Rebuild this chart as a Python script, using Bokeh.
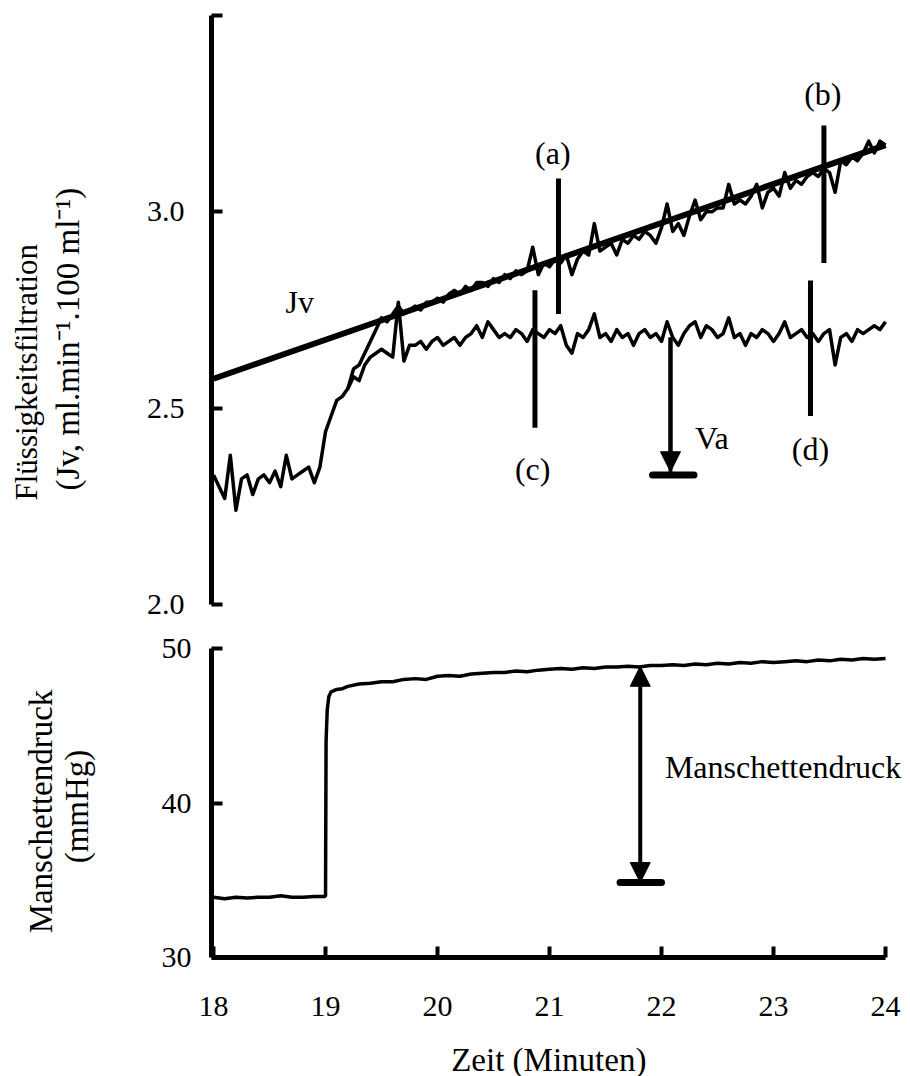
import math
from bokeh.plotting import figure
from bokeh.layouts import column, row
from bokeh.models import (ColumnDataSource, FixedTicker, Arrow, NormalHead, Range1d,
                          PrintfTickFormatter)
from bokeh.core.properties import value
from bokeh.embed import file_html
from bokeh.resources import INLINE

FONT = "Liberation Serif"
FS_TICK = "30px"
FS_TEXT = "32px"
FS_TITLE = "33px"

# ---------------- data ----------------
# lower trace (Jv record, ends in plateau c-d)
lower_t = [18.00, 18.05, 18.10, 18.15, 18.20, 18.25, 18.30, 18.35, 18.40, 18.45,
           18.50, 18.55, 18.60, 18.65, 18.70, 18.75, 18.80, 18.85, 18.90, 18.95,
           19.00, 19.05, 19.10, 19.15, 19.20, 19.25, 19.30, 19.35, 19.40, 19.45,
           19.50, 19.55, 19.60, 19.65, 19.70, 19.75, 19.80, 19.85, 19.90, 19.95,
           20.00, 20.05, 20.10, 20.15, 20.20, 20.25, 20.30, 20.35, 20.40, 20.45,
           20.50, 20.55, 20.60, 20.65, 20.70, 20.75, 20.80, 20.85, 20.90, 20.95,
           21.00, 21.05, 21.10, 21.15, 21.20, 21.25, 21.30, 21.35, 21.40, 21.45,
           21.50, 21.55, 21.60, 21.65, 21.70, 21.75, 21.80, 21.85, 21.90, 21.95,
           22.00, 22.05, 22.10, 22.15, 22.20, 22.25, 22.30, 22.35, 22.40, 22.45,
           22.50, 22.55, 22.60, 22.65, 22.70, 22.75, 22.80, 22.85, 22.90, 22.95,
           23.00, 23.05, 23.10, 23.15, 23.20, 23.25, 23.30, 23.35, 23.40, 23.45,
           23.50, 23.55, 23.60, 23.65, 23.70, 23.75, 23.80, 23.85, 23.90, 23.95,
           24.00]
lower_jv = [2.33, 2.30, 2.27, 2.38, 2.24, 2.32, 2.33, 2.28, 2.32, 2.33,
            2.31, 2.34, 2.30, 2.38, 2.32, 2.33, 2.34, 2.35, 2.31, 2.35,
            2.44, 2.48, 2.52, 2.53, 2.55, 2.58, 2.57, 2.61, 2.63, 2.64,
            2.65, 2.64, 2.63, 2.77, 2.62, 2.66, 2.66, 2.67, 2.65, 2.67,
            2.68, 2.66, 2.67, 2.68, 2.66, 2.68, 2.69, 2.71, 2.68, 2.72,
            2.70, 2.68, 2.69, 2.68, 2.70, 2.69, 2.67, 2.70, 2.69, 2.68,
            2.70, 2.69, 2.71, 2.66, 2.64, 2.69, 2.68, 2.70, 2.74, 2.68,
            2.69, 2.67, 2.70, 2.68, 2.69, 2.66, 2.69, 2.70, 2.68, 2.69,
            2.67, 2.72, 2.68, 2.66, 2.69, 2.71, 2.72, 2.68, 2.71, 2.70,
            2.68, 2.69, 2.73, 2.68, 2.69, 2.66, 2.69, 2.68, 2.70, 2.69,
            2.67, 2.69, 2.72, 2.68, 2.69, 2.70, 2.68, 2.69, 2.67, 2.69,
            2.70, 2.61, 2.68, 2.69, 2.67, 2.70, 2.69, 2.70, 2.71, 2.70,
            2.72]

# upper trace (Jv record rising along the fitted line, a-b)
upper_t = [19.20, 19.25, 19.30, 19.35, 19.40, 19.45, 19.50, 19.55, 19.60, 19.65, 19.70,
           19.75, 19.80, 19.85, 19.90, 19.95,
           20.00, 20.05, 20.10, 20.15, 20.20, 20.25, 20.30, 20.35, 20.40, 20.45,
           20.50, 20.55, 20.60, 20.65, 20.70, 20.75, 20.80, 20.85, 20.90, 20.95,
           21.00, 21.05, 21.10, 21.15, 21.20, 21.25, 21.30, 21.35, 21.40, 21.45,
           21.50, 21.55, 21.60, 21.65, 21.70, 21.75, 21.80, 21.85, 21.90, 21.95,
           22.00, 22.05, 22.10, 22.15, 22.20, 22.25, 22.30, 22.35, 22.40, 22.45,
           22.50, 22.55, 22.60, 22.65, 22.70, 22.75, 22.80, 22.85, 22.90, 22.95,
           23.00, 23.05, 23.10, 23.15, 23.20, 23.25, 23.30, 23.35, 23.40, 23.45,
           23.50, 23.55, 23.60, 23.65, 23.70, 23.75, 23.80, 23.85, 23.90, 23.95,
           24.00]
upper_jv = [2.55, 2.60, 2.61, 2.64, 2.67, 2.70, 2.73, 2.72, 2.74, 2.76, 2.74,
            2.75, 2.76, 2.75, 2.77, 2.77,
            2.78, 2.77, 2.79, 2.80, 2.79, 2.81, 2.80, 2.82, 2.82, 2.81,
            2.83, 2.82, 2.84, 2.83, 2.85, 2.84, 2.85, 2.91, 2.84, 2.87,
            2.86, 2.88, 2.87, 2.89, 2.84, 2.88, 2.90, 2.89, 2.97, 2.90,
            2.91, 2.92, 2.89, 2.93, 2.92, 2.94, 2.93, 2.95, 2.94, 2.92,
            2.96, 3.02, 2.95, 2.97, 2.94, 2.99, 3.03, 2.98, 3.00, 3.00,
            3.01, 3.01, 3.07, 3.02, 3.03, 3.02, 3.04, 3.07, 3.01, 3.05,
            3.06, 3.04, 3.10, 3.06, 3.08, 3.07, 3.09, 3.10, 3.09, 3.11,
            3.10, 3.05, 3.13, 3.12, 3.14, 3.13, 3.15, 3.18, 3.15, 3.18,
            3.17]

# fitted Jv line
fit_t = [18.0, 24.0]
fit_jv = [2.575, 3.17]

# vertical event markers (a)-(d)
mark_t = [21.08, 23.45, 20.87, 23.33]
mark_lo = [2.74, 2.87, 2.45, 2.48]
mark_hi = [3.085, 3.22, 2.80, 2.825]
mark_names = ["(a)", "(b)", "(c)", "(d)"]
mark_label_t = [21.03, 23.44, 20.85, 23.33]
mark_label_jv = [3.15, 3.30, 2.345, 2.395]

# Va arrow
va_t = [22.08]
va_from = [2.68]
va_to = [2.338]
va_bar_t = [21.92, 22.29]
va_bar_jv = [2.33, 2.33]

# other annotations top panel
note_top_t = [18.77, 22.45]
note_top_jv = [2.77, 2.425]
note_top_text = ["Jv", "Va"]

# cuff pressure
press_t = [18.00, 18.10, 18.20, 18.30, 18.40, 18.50, 18.60, 18.70, 18.80, 18.90,
           18.99, 19.00, 19.005, 19.015, 19.03, 19.05, 19.10, 19.15, 19.20, 19.30,
           19.40, 19.50, 19.60, 19.70, 19.80, 19.90, 20.00, 20.10, 20.20, 20.30,
           20.40, 20.50, 20.60, 20.70, 20.80, 20.90, 21.00, 21.10, 21.20, 21.30,
           21.40, 21.50, 21.60, 21.70, 21.80, 21.90, 22.00, 22.10, 22.20, 22.30,
           22.40, 22.50, 22.60, 22.70, 22.80, 22.90, 23.00, 23.10, 23.20, 23.30,
           23.40, 23.50, 23.60, 23.70, 23.80, 23.90, 24.00]
press_mmhg = [33.9, 33.8, 33.9, 33.85, 33.9, 33.9, 34.0, 33.9, 33.9, 33.95,
              33.95, 34.0, 44.0, 46.0, 46.9, 47.2, 47.35, 47.4, 47.55, 47.7,
              47.75, 47.85, 47.85, 48.0, 48.05, 48.0, 48.2, 48.25, 48.2, 48.35,
              48.4, 48.45, 48.45, 48.55, 48.5, 48.6, 48.65, 48.7, 48.65, 48.75,
              48.7, 48.8, 48.8, 48.85, 48.8, 48.9, 48.9, 48.95, 48.9, 49.0,
              48.95, 49.05, 49.0, 49.1, 49.05, 49.15, 49.1, 49.15, 49.2, 49.15,
              49.25, 49.2, 49.3, 49.25, 49.35, 49.3, 49.35]

# Manschettendruck arrow
md_t = [21.81]
md_from = [34.85]
md_to = [48.85]
md_bar_t = [21.63, 22.00]
md_bar_mmhg = [34.85, 34.85]
md_label_t = [22.03]
md_label_mmhg = [42.3]

x_ticks = [18, 19, 20, 21, 22, 23, 24]
jv_ticks = [2.0, 2.5, 3.0, 3.5]
p_ticks = [30, 40, 50]

y_title_top = ["Flüssigkeitsfiltration", "(Jv, ml.min\u207b\u00b9.100 ml\u207b\u00b9)"]
y_title_bottom = ["Manschettendruck", "(mmHg)"]
x_title = ["Zeit (Minuten)"]

# ---------------- layout constants (pixels) ----------------
W = 910
H = 1076
LEFT_W = 110          # strip holding the y-axis titles
TOP_H = 625
BOT_H = 412
XT_H = H - TOP_H - BOT_H


def style_axis(ax, ticks, standoff):
    ax.ticker = FixedTicker(ticks=ticks)
    ax.axis_line_width = 5
    ax.axis_line_color = "black"
    ax.major_tick_in = 11
    ax.major_tick_out = 0
    ax.major_tick_line_width = 4
    ax.minor_tick_line_color = None
    ax.major_label_text_font = FONT
    ax.major_label_text_font_size = FS_TICK
    ax.major_label_text_color = "black"
    ax.major_label_standoff = standoff


def blank_fig(w, h):
    f = figure(width=w, height=h, x_range=Range1d(0, w), y_range=Range1d(0, h),
               output_backend="svg", toolbar_location=None,
               x_axis_location=None, y_axis_location=None,
               min_border_left=0, min_border_right=0, min_border_top=0, min_border_bottom=0)
    f.outline_line_color = None
    f.grid.visible = False
    return f


xr = Range1d(17.982, 24.223)

# ---------------- top panel ----------------
p1 = figure(width=W - LEFT_W, height=TOP_H, x_range=xr, y_range=Range1d(2.0, 3.5),
            output_backend="svg", toolbar_location=None, x_axis_location=None,
            min_border_left=211 - LEFT_W, min_border_right=0, min_border_top=15, min_border_bottom=21)
p1.outline_line_color = None
p1.grid.visible = False
style_axis(p1.yaxis[0], jv_ticks, 27)
p1.yaxis[0].formatter = PrintfTickFormatter(format="%.1f")
p1.yaxis[0].major_label_overrides = {3.5: ""}

p1.line(fit_t, fit_jv, line_color="black", line_width=6)
p1.line(lower_t, lower_jv, line_color="black", line_width=3.5, line_join="round")
p1.line(upper_t, upper_jv, line_color="black", line_width=3.5, line_join="round")
p1.segment(x0=mark_t, y0=mark_lo, x1=mark_t, y1=mark_hi, line_color="black", line_width=5)
p1.segment(x0=va_t, y0=va_from, x1=va_t, y1=va_to, line_color="black", line_width=4)
p1.line(va_bar_t, va_bar_jv, line_color="black", line_width=7, line_cap="round")
p1.add_layout(Arrow(end=NormalHead(size=20, fill_color="black", line_color="black"),
                    x_start=va_t[0], y_start=va_from[0], x_end=va_t[0], y_end=va_to[0],
                    line_color="black", line_width=4))

src_marks = ColumnDataSource(dict(x=mark_label_t, y=mark_label_jv, t=mark_names))
p1.text(x="x", y="y", text="t", source=src_marks, text_font=value(FONT), text_font_size=FS_TEXT,
        text_align="center", text_baseline="middle", text_color="black")
src_notes = ColumnDataSource(dict(x=note_top_t, y=note_top_jv, t=note_top_text))
p1.text(x="x", y="y", text="t", source=src_notes, text_font=value(FONT), text_font_size=FS_TEXT,
        text_align="center", text_baseline="middle", text_color="black")

# ---------------- bottom panel ----------------
p2 = figure(width=W - LEFT_W, height=BOT_H, x_range=xr, y_range=Range1d(30, 50),
            output_backend="svg", toolbar_location=None,
            min_border_left=211 - LEFT_W, min_border_right=0, min_border_top=23,
            min_border_bottom=BOT_H - (957 - TOP_H))
p2.outline_line_color = None
p2.grid.visible = False
style_axis(p2.yaxis[0], p_ticks, 20)
style_axis(p2.xaxis[0], x_ticks, 39)
p2.xaxis[0].bounds = (17.982, 24.0)

p2.line(press_t, press_mmhg, line_color="black", line_width=3.5, line_join="round")
p2.line(md_bar_t, md_bar_mmhg, line_color="black", line_width=7, line_cap="round")
p2.add_layout(Arrow(start=NormalHead(size=20, fill_color="black", line_color="black"),
                    end=NormalHead(size=20, fill_color="black", line_color="black"),
                    x_start=md_t[0], y_start=md_from[0], x_end=md_t[0], y_end=md_to[0],
                    line_color="black", line_width=4))
src_md = ColumnDataSource(dict(x=md_label_t, y=md_label_mmhg, t=["Manschettendruck"]))
p2.text(x="x", y="y", text="t", source=src_md, text_font=value(FONT), text_font_size=FS_TEXT,
        text_align="left", text_baseline="middle", text_color="black")

# ---------------- y-axis titles strip ----------------
pl = blank_fig(LEFT_W, H)
src_yt1 = ColumnDataSource(dict(x=[26, 67], y=[H - 500, H - 490], t=y_title_top,
                                fs=["31px", FS_TITLE]))
pl.text(x="x", y="y", text="t", source=src_yt1, angle=math.pi / 2, text_font=value(FONT),
        text_font_size="fs", text_align="left", text_baseline="middle", text_color="black")
src_yt2 = ColumnDataSource(dict(x=[40, 76], y=[H - 811, H - 806], t=y_title_bottom))
pl.text(x="x", y="y", text="t", source=src_yt2, angle=math.pi / 2, text_font=value(FONT),
        text_font_size=FS_TITLE, text_align="center", text_baseline="middle", text_color="black")

# ---------------- x-axis title strip ----------------
pb = blank_fig(W - LEFT_W, XT_H)
src_xt = ColumnDataSource(dict(x=[386], y=[H - 1059], t=x_title))
pb.text(x="x", y="y", text="t", source=src_xt, text_font=value(FONT), text_font_size=FS_TITLE,
        text_align="center", text_baseline="middle", text_color="black")

layout = row(pl, column(p1, p2, pb, spacing=0), spacing=0)
open("out.html", "w").write(file_html(layout, INLINE))
